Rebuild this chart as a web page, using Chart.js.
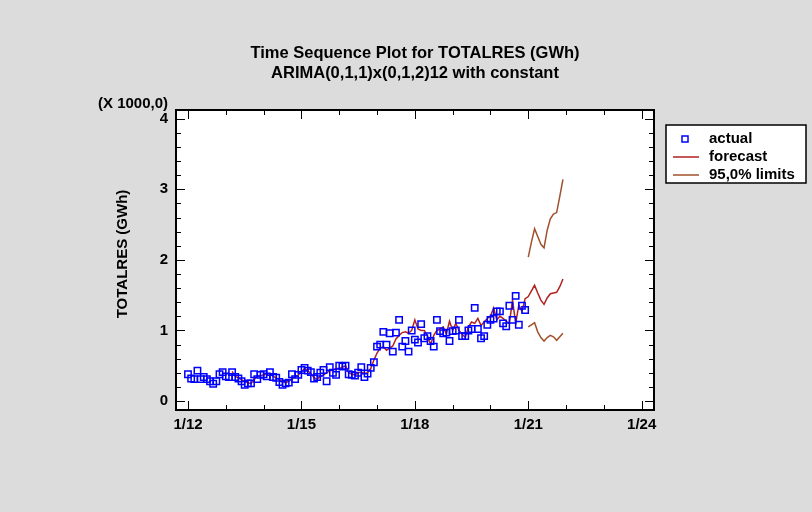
<!DOCTYPE html>
<html>
<head>
<meta charset="utf-8">
<script src="https://cdn.jsdelivr.net/npm/chart.js@4/dist/chart.umd.min.js"></script>
<style>
html, body { margin: 0; padding: 0; background: rgb(220,220,220); }
#seq_canvas { display: block; }
</style>
</head>
<body>
<canvas id="seq_canvas" width="812" height="512"></canvas>
<script>
var chartColors = {
    actual: 'rgb(0,0,255)',
    forecast: 'rgb(178,34,34)',
    limits: 'rgb(160,82,45)',
    panel: 'rgb(220,220,220)',
    black: 'rgb(0,0,0)'
};
var fontFamily = '"Liberation Sans", Arial, Helvetica, sans-serif';

var titleLines = ['Time Sequence Plot for TOTALRES (GWh)', 'ARIMA(0,1,1)x(0,1,2)12 with constant'];
var yTitle = 'TOTALRES (GWh)';
var yScaleNote = '(X 1000,0)';

// monthly values, first point = 1/2012 (in thousands of GWh)
var firstYear = 2012;
var actualValues = [
    0.38, 0.32, 0.31, 0.43, 0.31, 0.34, 0.31, 0.28, 0.245, 0.28, 0.38, 0.41,
    0.35, 0.34, 0.41, 0.34, 0.32, 0.28, 0.23, 0.25, 0.25, 0.38, 0.31, 0.37,
    0.38, 0.35, 0.41, 0.34, 0.33, 0.27, 0.23, 0.25, 0.26, 0.38, 0.31, 0.37,
    0.44, 0.47, 0.43, 0.41, 0.32, 0.34, 0.40, 0.44, 0.28, 0.48, 0.40, 0.37,
    0.50, 0.49, 0.50, 0.38, 0.37, 0.36, 0.40, 0.48, 0.34, 0.39, 0.47, 0.55,
    0.77, 0.80, 0.98, 0.80, 0.96, 0.70, 0.97, 1.15, 0.77, 0.85, 0.70, 1.00,
    0.87, 0.83, 1.09, 0.89, 0.92, 0.85, 0.77, 1.15, 0.99, 0.96, 0.97, 0.85,
    0.99, 1.00, 1.15, 0.92, 0.92, 1.00, 1.02, 1.32, 1.02, 0.89, 0.92, 1.08,
    1.15, 1.17, 1.27, 1.27, 1.10, 1.06, 1.35, 1.15, 1.49, 1.08, 1.35, 1.29
];

// forecast starts at 3/2013 (month index 14)
var forecastFirstMonth = 14;
var forecastValues = [
    0.42, 0.35, 0.33, 0.30, 0.28, 0.26, 0.25, 0.30, 0.35, 0.36,
    0.37, 0.38, 0.39, 0.35, 0.33, 0.30, 0.28, 0.26, 0.28, 0.31, 0.34, 0.37,
    0.41, 0.46, 0.43, 0.39, 0.33, 0.31, 0.35, 0.37, 0.40, 0.43, 0.44, 0.46,
    0.46, 0.48, 0.50, 0.40, 0.38, 0.37, 0.40, 0.41, 0.39, 0.40, 0.46, 0.58,
    0.68, 0.75, 0.77, 0.72, 0.75, 0.78, 0.88, 0.93, 0.97, 0.98, 0.96, 1.00,
    1.15, 1.02, 1.00, 1.00, 0.92, 0.80, 0.93, 1.00, 1.02, 1.05, 0.95, 1.13,
    1.00, 1.10, 1.00, 0.95, 0.90, 1.05, 1.12, 1.10, 1.17, 1.07, 1.12, 1.17,
    1.20, 1.32, 1.15, 1.20, 1.17, 1.13, 1.10, 1.43, 1.10, 1.36, 1.27, 1.45,
    1.48, 1.56, 1.64, 1.53, 1.43, 1.37, 1.46, 1.52, 1.53, 1.54, 1.62, 1.73
];

// 95% limits for 2021 (month index 108..119)
var limitsFirstMonth = 108;
var upperLimits = [2.04, 2.25, 2.44, 2.33, 2.22, 2.17, 2.42, 2.58, 2.65, 2.67, 2.90, 3.14];
var lowerLimits = [1.05, 1.08, 1.11, 0.98, 0.90, 0.85, 0.90, 0.93, 0.91, 0.86, 0.91, 0.96];

var xTickYears = [2012, 2015, 2018, 2021, 2024];
var yTickValues = [0, 1, 2, 3, 4];

function monthToX(m) {
    return firstYear + m / 12;
}

function toPoints(values, firstMonth) {
    return values.map(function(v, i) {
        return {x: monthToX(firstMonth + i), y: v};
    });
}

function font(size) {
    return 'bold ' + size + 'px ' + fontFamily;
}

var framePlugin = {
    id: 'frame',
    beforeDraw: function(chart) {
        var ctx = chart.ctx;
        var a = chart.chartArea;
        ctx.save();
        ctx.fillStyle = chartColors.panel;
        ctx.fillRect(0, 0, chart.width, chart.height);
        ctx.fillStyle = '#fff';
        ctx.fillRect(a.left, a.top, a.right - a.left, a.bottom - a.top);
        ctx.restore();
    },
    afterDraw: function(chart) {
        var ctx = chart.ctx;
        var a = chart.chartArea;
        var xs = chart.scales.x;
        var ys = chart.scales.y;
        ctx.save();
        ctx.strokeStyle = chartColors.black;

        // tick marks pointing inwards on all four sides
        ctx.lineWidth = 1;
        ctx.beginPath();
        for (var yr = 2012; yr <= 2024; yr++) {
            var px = Math.round(xs.getPixelForValue(yr)) + 0.5;
            var major = xTickYears.indexOf(yr) >= 0;
            var len = major ? 9 : 5;
            ctx.moveTo(px, a.bottom);
            ctx.lineTo(px, a.bottom - len);
            ctx.moveTo(px, a.top);
            ctx.lineTo(px, a.top + len);
        }
        for (var k = 0; k <= 20; k++) {
            var v = k / 5;
            var py = Math.round(ys.getPixelForValue(v)) + 0.5;
            var lenY = (k % 5 === 0) ? 9 : 5;
            ctx.moveTo(a.left, py);
            ctx.lineTo(a.left + lenY, py);
            ctx.moveTo(a.right, py);
            ctx.lineTo(a.right - lenY, py);
        }
        ctx.stroke();

        ctx.lineWidth = 2;
        ctx.strokeRect(a.left, a.top, a.right - a.left, a.bottom - a.top);

        // titles
        ctx.fillStyle = chartColors.black;
        ctx.textAlign = 'center';
        ctx.textBaseline = 'middle';
        ctx.font = font(16.5);
        var cx = (a.left + a.right) / 2;
        ctx.fillText(titleLines[0], cx, 53);
        ctx.fillText(titleLines[1], cx, 73);

        ctx.font = font(15);
        ctx.textAlign = 'right';
        ctx.fillText(yScaleNote, a.left - 8, 104);

        ctx.save();
        ctx.translate(123, 254);
        ctx.rotate(-Math.PI / 2);
        ctx.textAlign = 'center';
        ctx.fillText(yTitle, 0, 0);
        ctx.restore();

        // legend box
        var lx = 666, ly = 125, lw = 140, lh = 58;
        ctx.fillStyle = '#fff';
        ctx.fillRect(lx, ly, lw, lh);
        ctx.lineWidth = 1.5;
        ctx.strokeRect(lx, ly, lw, lh);
        var rows = [139, 157, 175];
        chart.data.datasets.forEach(function(ds, i) {
            if (i > 2) return;
            var ry = rows[i];
            ctx.strokeStyle = ds.borderColor;
            ctx.lineWidth = 1.5;
            if (i === 0) {
                ctx.strokeRect(682, ry - 3, 6, 6);
            } else {
                ctx.beginPath();
                ctx.moveTo(673, ry);
                ctx.lineTo(699, ry);
                ctx.stroke();
            }
            ctx.fillStyle = chartColors.black;
            ctx.textAlign = 'left';
            ctx.font = font(15);
            ctx.fillText(ds.label, 709, ry);
        });
        ctx.restore();
    }
};

var seqConfig = {
    type: 'scatter',
    data: {
        datasets: [{
            label: 'actual',
            data: toPoints(actualValues, 0),
            showLine: false,
            pointStyle: 'rect',
            pointRadius: 4.5,
            pointBorderWidth: 1.5,
            borderColor: chartColors.actual,
            backgroundColor: 'rgba(0,0,0,0)'
        }, {
            label: 'forecast',
            data: toPoints(forecastValues, forecastFirstMonth),
            showLine: true,
            pointRadius: 0,
            borderWidth: 1.5,
            borderColor: chartColors.forecast,
            backgroundColor: chartColors.forecast
        }, {
            label: '95,0% limits',
            data: toPoints(upperLimits, limitsFirstMonth),
            showLine: true,
            pointRadius: 0,
            borderWidth: 1.5,
            borderColor: chartColors.limits,
            backgroundColor: chartColors.limits
        }, {
            label: 'lower limits',
            data: toPoints(lowerLimits, limitsFirstMonth),
            showLine: true,
            pointRadius: 0,
            borderWidth: 1.5,
            borderColor: chartColors.limits,
            backgroundColor: chartColors.limits
        }]
    },
    options: {
        responsive: false,
        animation: false,
        events: [],
        layout: {padding: {left: 0, top: 110, right: 158, bottom: 0}},
        plugins: {
            legend: {display: false},
            tooltip: {enabled: false},
            title: {display: false}
        },
        scales: {
            x: {
                type: 'linear',
                min: 2011.683,
                max: 2024.325,
                grid: {display: false, drawTicks: false},
                border: {display: false},
                afterFit: function(scale) { scale.height = 102; },
                afterBuildTicks: function(scale) {
                    scale.ticks = xTickYears.map(function(y) { return {value: y}; });
                },
                ticks: {
                    autoSkip: false,
                    maxRotation: 0,
                    padding: 6,
                    color: chartColors.black,
                    font: {family: fontFamily, size: 15, weight: 'bold'},
                    callback: function(value) {
                        return '1/' + String(value).slice(2);
                    }
                }
            },
            y: {
                min: -0.127,
                max: 4.123,
                grid: {display: false, drawTicks: false},
                border: {display: false},
                afterFit: function(scale) { scale.width = 176; },
                afterBuildTicks: function(scale) {
                    scale.ticks = yTickValues.map(function(v) { return {value: v}; });
                },
                ticks: {
                    padding: 8,
                    color: chartColors.black,
                    font: {family: fontFamily, size: 15, weight: 'bold'},
                    callback: function(value) { return String(value); }
                }
            }
        }
    },
    plugins: [framePlugin]
};

var ctx = document.getElementById('seq_canvas').getContext('2d');
window.seqChart = new Chart(ctx, seqConfig);
</script>
</body>
</html>
